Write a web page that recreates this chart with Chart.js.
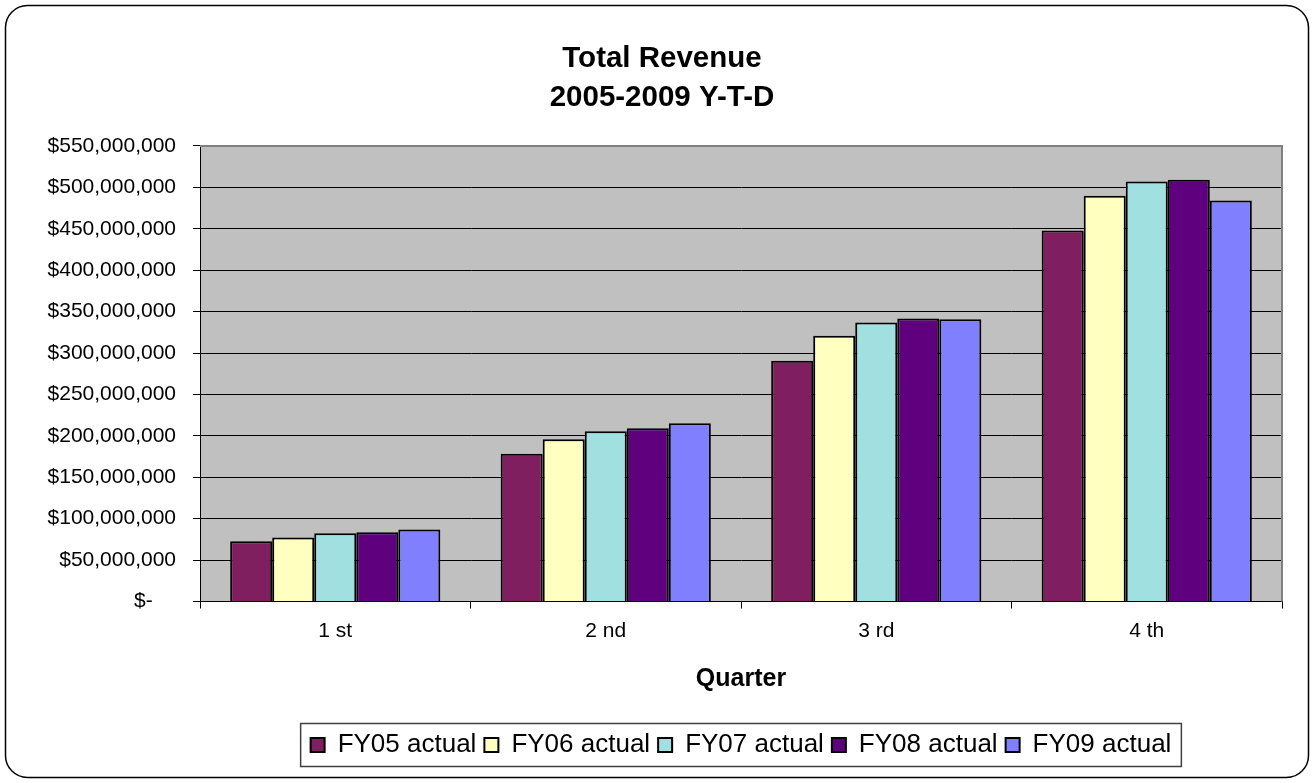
<!DOCTYPE html>
<html>
<head>
<meta charset="utf-8">
<title>Total Revenue 2005-2009 Y-T-D</title>
<script src="https://cdn.jsdelivr.net/npm/chart.js@4.4.1/dist/chart.umd.min.js"></script>
<style>
  html, body { margin: 0; padding: 0; background: #fff; }
  canvas { display: block; }
</style>
</head>
<body>
<canvas id="revenueChart" width="1314" height="783"></canvas>
<script>
// Datos (ingresos acumulados por trimestre)
var quarters = ['1 st', '2 nd', '3 rd', '4 th'];
var fy05 = [72800000, 178300000, 290600000, 448000000];
var fy06 = [77200000, 196000000, 320800000, 489900000];
var fy07 = [82500000, 205700000, 336800000, 507100000];
var fy08 = [83700000, 209300000, 341600000, 509200000];
var fy09 = [86800000, 215300000, 340900000, 484200000];
var seriesNames = ['FY05 actual', 'FY06 actual', 'FY07 actual', 'FY08 actual', 'FY09 actual'];
var seriesColors = ['#7F1F5F', '#FFFFC0', '#A0E0E0', '#5F007F', '#8080FF'];

Chart.defaults.font.family = '"Liberation Sans", Arial, sans-serif';
Chart.defaults.color = '#000';

// Fondo, borde redondeado y caja de la leyenda
var decorations = {
    id: 'decorations',
    beforeDraw: function (chart) {
        var c = chart.ctx, a = chart.chartArea;
        c.save();
        c.fillStyle = '#fff';
        c.fillRect(0, 0, chart.width, chart.height);
        c.beginPath();
        c.roundRect(5.5, 5.5, chart.width - 11, chart.height - 11, 22);
        c.strokeStyle = '#000';
        c.lineWidth = 1.5;
        c.stroke();
        c.fillStyle = '#C0C0C0';
        c.fillRect(a.left, a.top, a.right - a.left, a.bottom - a.top);
        c.restore();
    },
    afterDraw: function (chart) {
        var c = chart.ctx, a = chart.chartArea;
        c.save();
        c.strokeStyle = '#808080';
        c.lineWidth = 2;
        c.beginPath();
        c.moveTo(a.left, a.top);
        c.lineTo(a.right, a.top);
        c.lineTo(a.right, a.bottom);
        c.stroke();
        var boxes = chart.legend.legendHitBoxes;
        if (boxes && boxes.length) {
            var first = boxes[0], last = boxes[boxes.length - 1];
            var cy = first.top + first.height / 2;
            var x0 = first.left - 10, x1 = last.left + last.width + 10;
            c.strokeStyle = '#404040';
            c.lineWidth = 1.5;
            c.strokeRect(x0, cy - 21.5, x1 - x0, 43);
        }
        c.restore();
    }
};

var datasets = [fy05, fy06, fy07, fy08, fy09].map(function (vals, i) {
    return {
        label: seriesNames[i],
        data: vals,
        backgroundColor: seriesColors[i],
        borderColor: '#000',
        borderWidth: 2,
        categoryPercentage: 0.777,
        barPercentage: 1.0
    };
});

new Chart(document.getElementById('revenueChart'), {
    type: 'bar',
    data: { labels: quarters, datasets: datasets },
    options: {
        responsive: false,
        animation: false,
        layout: { padding: { top: 8, left: 42, right: 32, bottom: 15 } },
        plugins: {
            title: {
                display: true,
                text: ['Total Revenue', '2005-2009 Y-T-D'],
                font: { size: 29.5, weight: 'bold', lineHeight: 1.322 },
                padding: { top: 31.5, bottom: 28.5 }
            },
            legend: {
                position: 'bottom',
                fullSize: false,
                labels: {
                    boxWidth: 14,
                    boxHeight: 14,
                    padding: 8,
                    font: { size: 26 }
                }
            },
            tooltip: { enabled: false }
        },
        scales: {
            x: {
                grid: { offset: true, drawOnChartArea: false, drawTicks: true, tickLength: 7, color: '#000' },
                border: { display: true, color: '#000', width: 1 },
                ticks: { font: { size: 21 }, padding: 10 },
                title: {
                    display: true,
                    text: 'Quarter',
                    font: { size: 25, weight: 'bold' },
                    padding: { top: 4, bottom: 30 }
                },
                afterFit: function (scale) { scale.height = 122.5; }
            },
            y: {
                min: 0,
                max: 550000000,
                grid: { color: '#000', tickLength: 7, drawTicks: true },
                border: { display: true, color: '#000', width: 1 },
                ticks: {
                    stepSize: 50000000,
                    padding: 17,
                    font: { size: 21 },
                    callback: function (v) {
                        return v === 0 ? '$-    ' : '$' + v.toLocaleString('en-US');
                    }
                },
                afterFit: function (scale) { scale.width = 158; }
            }
        }
    },
    plugins: [decorations]
});
</script>
</body>
</html>
